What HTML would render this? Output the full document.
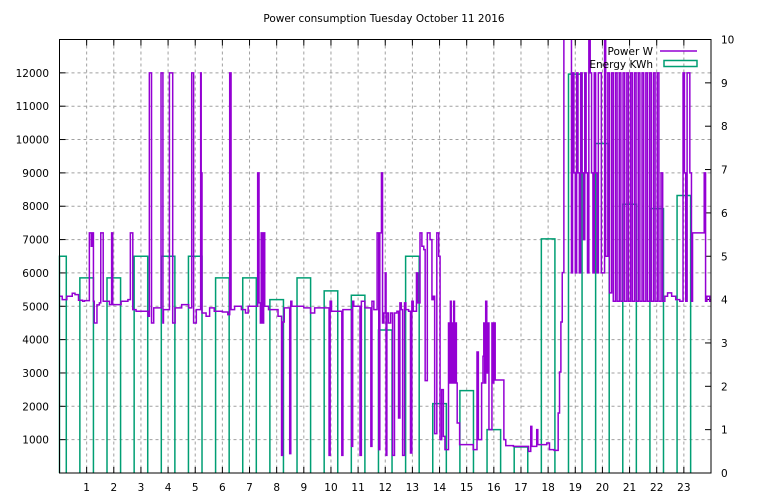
<!DOCTYPE html>
<html><head><meta charset="utf-8"><style>
html,body{margin:0;padding:0;background:#fff;}
svg{display:block;font-family:"DejaVu Sans","Liberation Sans",sans-serif;font-size:10.5px;}
</style></head><body>
<svg id="chart" width="768" height="500" viewBox="0 0 768 500" xmlns="http://www.w3.org/2000/svg">
<rect width="768" height="500" fill="#fff"/>
<text x="384" y="22" text-anchor="middle">Power consumption Tuesday October 11 2016</text>
<g id="grid"></g>
<g id="ticks"></g>
<g id="plot"></g>
<rect x="59.5" y="39.5" width="651.5" height="433.5" fill="none" stroke="#000" stroke-width="1"/>
<g>
  <text x="653" y="55" text-anchor="end">Power W</text>
  <line x1="660" y1="51" x2="697" y2="51" stroke="#9400d3" stroke-width="1.5"/>
  <text x="653" y="68" text-anchor="end">Energy KWh</text>
  <rect x="664" y="60.5" width="33" height="6" fill="none" stroke="#009e73" stroke-width="1.5"/>
</g>
</svg>
<script>
const hourTicks=[1,2,3,4,5,6,7,8,9,10,11,12,13,14,15,16,17,18,19,20,21,22,23];
const wattTicks=[1000,2000,3000,4000,5000,6000,7000,8000,9000,10000,11000,12000];
const kwhTicks=[0,1,2,3,4,5,6,7,8,9,10];
const energyHours=[0,1,2,3,4,5,6,7,8,9,10,11,12,13,14,15,16,17,18,19,20,21,22,23];
const energyKwh=[5.0,4.5,4.5,5.0,5.0,5.0,4.5,4.5,4.0,4.5,4.2,4.1,3.3,5.0,1.6,1.9,1.0,0.6,5.4,9.2,7.6,6.2,6.1,6.4];
const powerTimes=[0,0.1,0.27,0.47,0.57,0.7,0.85,0.92,1.1,1.17,1.2,1.25,1.28,1.38,1.47,1.52,1.61,1.84,1.92,1.96,2.27,2.52,2.61,2.7,2.82,3.26,3.31,3.39,3.47,3.74,3.81,3.83,4.05,4.17,4.26,4.5,4.76,4.87,4.94,5.04,5.2,5.22,5.25,5.4,5.53,5.7,6.0,6.2,6.27,6.32,6.45,6.7,6.85,6.95,7.3,7.35,7.4,7.43,7.47,7.52,7.56,7.7,8.05,8.18,8.22,8.28,8.48,8.52,8.56,9.0,9.25,9.4,9.93,9.97,10.02,10.4,10.44,10.76,10.8,10.84,11.07,11.12,11.25,11.47,11.51,11.58,11.7,11.76,11.8,11.86,11.9,11.95,12.0,12.03,12.06,12.12,12.2,12.27,12.34,12.43,12.49,12.54,12.59,12.64,12.71,12.76,12.86,12.93,12.98,13.03,13.15,13.2,13.28,13.35,13.42,13.47,13.55,13.65,13.72,13.77,13.82,13.9,13.97,14.02,14.08,14.14,14.2,14.33,14.37,14.4,14.43,14.46,14.49,14.52,14.55,14.58,14.62,14.65,14.74,15.24,15.38,15.43,15.55,15.6,15.63,15.66,15.7,15.74,15.78,15.82,15.93,15.97,16.0,16.05,16.37,16.44,16.72,17.28,17.36,17.4,17.58,17.62,17.95,18.05,18.22,18.37,18.42,18.47,18.52,18.58,18.86,18.9,18.95,19.0,19.05,19.1,19.15,19.2,19.25,19.3,19.35,19.4,19.45,19.5,19.55,19.6,19.65,19.7,19.75,19.8,19.85,19.9,19.96,20.08,20.12,20.2,20.26,20.34,20.4,20.48,20.54,20.62,20.68,20.76,20.82,20.9,20.96,21.04,21.1,21.18,21.24,21.32,21.38,21.46,21.52,21.6,21.66,21.74,21.8,21.88,21.94,22.02,22.08,22.16,22.22,22.3,22.4,22.55,22.7,22.85,22.97,23.02,23.07,23.12,23.22,23.28,23.32,23.75,23.8,23.85,23.95,24.0];
const powerWatts=[5300,5200,5300,5390,5350,5180,5150,5170,7200,6800,7200,5150,4500,5040,5100,7200,5150,5050,7200,5050,5150,5200,7200,4900,4850,4700,12000,4500,4950,12000,4500,4900,12000,4500,4950,5050,4950,12000,4500,4900,12000,9000,4800,4700,4950,4850,4830,4750,12000,4900,5000,4900,4800,5000,9000,5100,4500,7200,4500,7200,5000,4900,4700,530,4530,4950,580,5150,5000,4950,4800,4950,530,5150,4850,530,4900,800,5150,5000,530,5150,4950,800,5150,4900,7200,700,7200,9000,4500,4800,6000,530,4800,4500,4800,530,4800,4850,1650,5100,4900,530,5100,4900,4850,600,5150,4850,6000,5100,7200,6800,6700,2770,7200,7000,5200,5300,1180,7200,6500,1000,2500,1100,700,4500,2700,5150,2700,4500,2700,5150,2700,4500,2700,1500,850,700,3630,1000,2700,3500,4500,2700,5150,3000,4500,1300,4500,2700,4500,2790,1000,820,800,650,1400,800,1300,850,900,700,680,1800,3030,4530,6010,13500,6000,12000,9000,6000,12000,9000,6000,12000,9000,7000,12000,9000,6000,13500,12000,9000,6000,12000,9000,6000,12000,12000,6000,13500,6500,12000,5400,12000,5150,12000,5150,12000,5150,12000,5150,12000,5150,12000,5150,12000,5150,12000,5150,12000,5150,12000,5150,12000,5150,12000,5150,12000,5150,9000,5150,5300,5400,5300,5200,5150,12000,9000,5150,12000,9000,5150,7200,9000,5150,5300,5150,5150];

const X0=59.5,X1=711,Y0=473,Y1=39.5;
function xs(h){return X0+(X1-X0)*h/24;}
function yw(w){return Y0-(Y0-Y1)*w/13000;}
function yk(k){return Y0-(Y0-Y1)*k/10;}
const NS='http://www.w3.org/2000/svg';
function mk(tag,parent){const e=document.createElementNS(NS,tag);parent.appendChild(e);return e;}
const grid=document.getElementById('grid'),ticks=document.getElementById('ticks'),plot=document.getElementById('plot');

hourTicks.forEach(h=>{
  const x=xs(h);
  const g=mk('line',grid);
  
  
  g.setAttribute('x1',x);g.setAttribute('x2',x);g.setAttribute('y1',Y1);g.setAttribute('y2',Y0);
  g.setAttribute('stroke','#a0a0a0');g.setAttribute('stroke-dasharray','3,3');
  [[Y0,Y0-6],[Y1,Y1+6]].forEach(p=>{
    const t=mk('line',ticks);
    
    
    t.setAttribute('x1',x);t.setAttribute('x2',x);t.setAttribute('y1',p[0]);t.setAttribute('y2',p[1]);t.setAttribute('stroke','#000');
  });
  const l=mk('text',ticks);
  
  
  l.setAttribute('x',x);l.setAttribute('y',491);l.setAttribute('text-anchor','middle');l.textContent=h;
});
wattTicks.forEach(w=>{
  const y=yw(w);
  const g=mk('line',grid);
  
  
  g.setAttribute('x1',X0);g.setAttribute('x2',X1);g.setAttribute('y1',y);g.setAttribute('y2',y);
  g.setAttribute('stroke','#a0a0a0');g.setAttribute('stroke-dasharray','3,3');
  const t=mk('line',ticks);
  
  
  t.setAttribute('x1',X0);t.setAttribute('x2',X0+6);t.setAttribute('y1',y);t.setAttribute('y2',y);t.setAttribute('stroke','#000');
  const l=mk('text',ticks);
  
  
  l.setAttribute('x',49);l.setAttribute('y',y+4);l.setAttribute('text-anchor','end');l.textContent=w;
});
kwhTicks.forEach(k=>{
  const y=yk(k);
  const t=mk('line',ticks);
  
  
  t.setAttribute('x1',X1);t.setAttribute('x2',X1-6);t.setAttribute('y1',y);t.setAttribute('y2',y);t.setAttribute('stroke','#000');
  const l=mk('text',ticks);
  
  
  l.setAttribute('x',721);l.setAttribute('y',y+4);l.textContent=k;
});

energyHours.forEach((h,i)=>{
  const a=Math.max(0,h-0.25),b=Math.min(24,h+0.25);
  const r=mk('polyline',plot);
  
  
  const yt=yk(energyKwh[i]);
  r.setAttribute('points',`${xs(a)},${Y0} ${xs(a)},${yt} ${xs(b)},${yt} ${xs(b)},${Y0}`);
  r.setAttribute('fill','none');r.setAttribute('stroke','#009e73');r.setAttribute('stroke-width','1.5');
});

const clip=mk('clipPath',plot);clip.setAttribute('id','pc');
const cr=mk('rect',clip);cr.setAttribute('x',X0);cr.setAttribute('y',Y1);cr.setAttribute('width',X1-X0);cr.setAttribute('height',Y0-Y1);
let pts=[];
for(let i=0;i<powerTimes.length;i++){
  const y=yw(powerWatts[i]);
  if(i>0)pts.push(xs(powerTimes[i])+','+yw(powerWatts[i-1]));
  pts.push(xs(powerTimes[i])+','+y);
}
const pl=mk('polyline',plot);


pl.setAttribute('points',pts.join(' '));
pl.setAttribute('fill','none');pl.setAttribute('stroke','#9400d3');pl.setAttribute('stroke-width','1.5');
pl.setAttribute('clip-path','url(#pc)');
</script>
</body></html>
